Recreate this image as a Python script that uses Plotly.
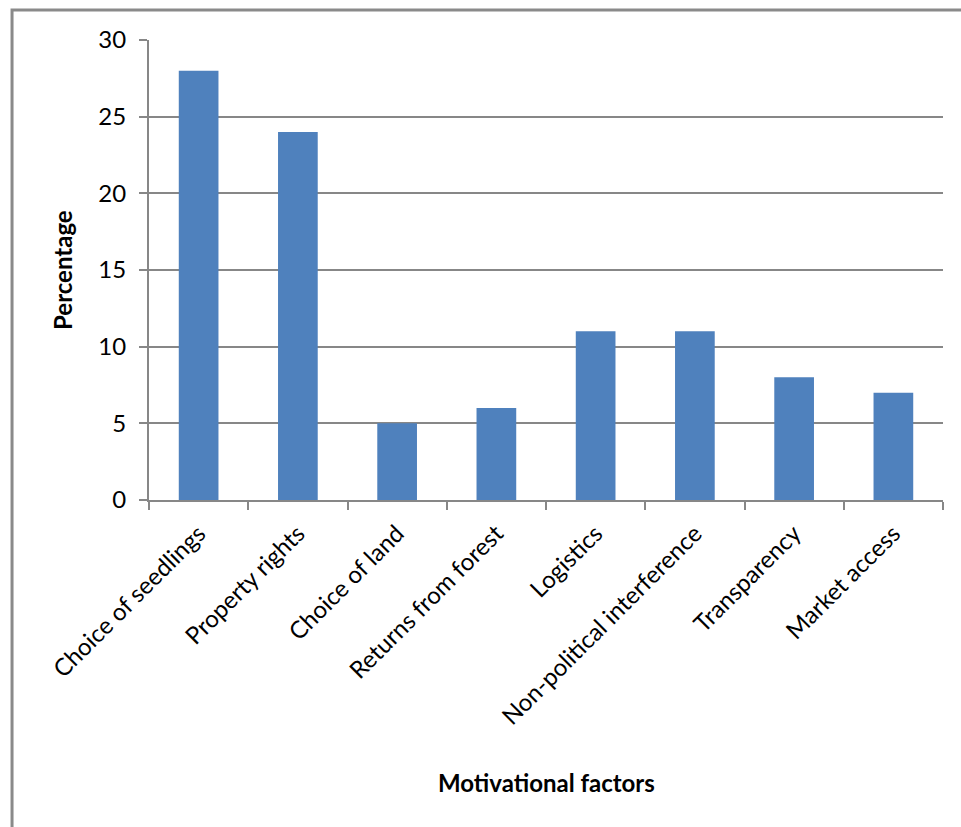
import plotly.graph_objects as go

categories = ["Choice of seedlings", "Property rights", "Choice of land", "Returns from forest",
              "Logistics", "Non-political interference", "Transparency", "Market access"]
values = [28, 24, 5, 6, 11, 11, 8, 7]
y_ticks = [0, 5, 10, 15, 20, 25, 30]

FONT = "Lato, Open Sans, sans-serif"
GRID = "#878787"

fig = go.Figure(go.Bar(x=categories, y=values, marker=dict(color="#4F81BD", line=dict(width=0)),
                       width=0.4))

fig.update_layout(
    width=961, height=827,
    margin=dict(l=149, r=18, t=40, b=327),
    paper_bgcolor="white", plot_bgcolor="white",
    showlegend=False,
    font=dict(family=FONT, size=24, color="black"),
    xaxis=dict(
        showline=True, linecolor=GRID, linewidth=2,
        ticks="outside", ticklen=8, tickcolor=GRID, tickwidth=2,
        tickson="boundaries", tickangle=-45,
        tickfont=dict(size=24), ticklabelstandoff=8,
        showgrid=False,
    ),
    yaxis=dict(
        range=[0, 30], tickvals=y_ticks,
        showline=True, linecolor=GRID, linewidth=2,
        ticks="outside", ticklen=8, tickcolor=GRID, tickwidth=2,
        showgrid=True, gridcolor=GRID, gridwidth=2,
        tickfont=dict(size=24), ticklabelstandoff=8,
        zeroline=False,
    ),
    annotations=[
        dict(text="<b>Motivational factors</b>", xref="paper", yref="paper",
             x=0.5, y=-0.615, showarrow=False, font=dict(size=24),
             xanchor="center", yanchor="middle"),
        dict(text="<b>Percentage</b>", xref="paper", yref="paper",
             x=-0.1096, y=0.5, showarrow=False, font=dict(size=24), textangle=-90,
             xanchor="center", yanchor="middle"),
    ],
    shapes=[dict(type="rect", xref="paper", yref="paper",
                 x0=-0.1725, x1=1.1, y0=-0.9, y1=1.0652,
                 line=dict(color="#8a8a8a", width=3), layer="below")],
)

fig.write_html("out.html")
